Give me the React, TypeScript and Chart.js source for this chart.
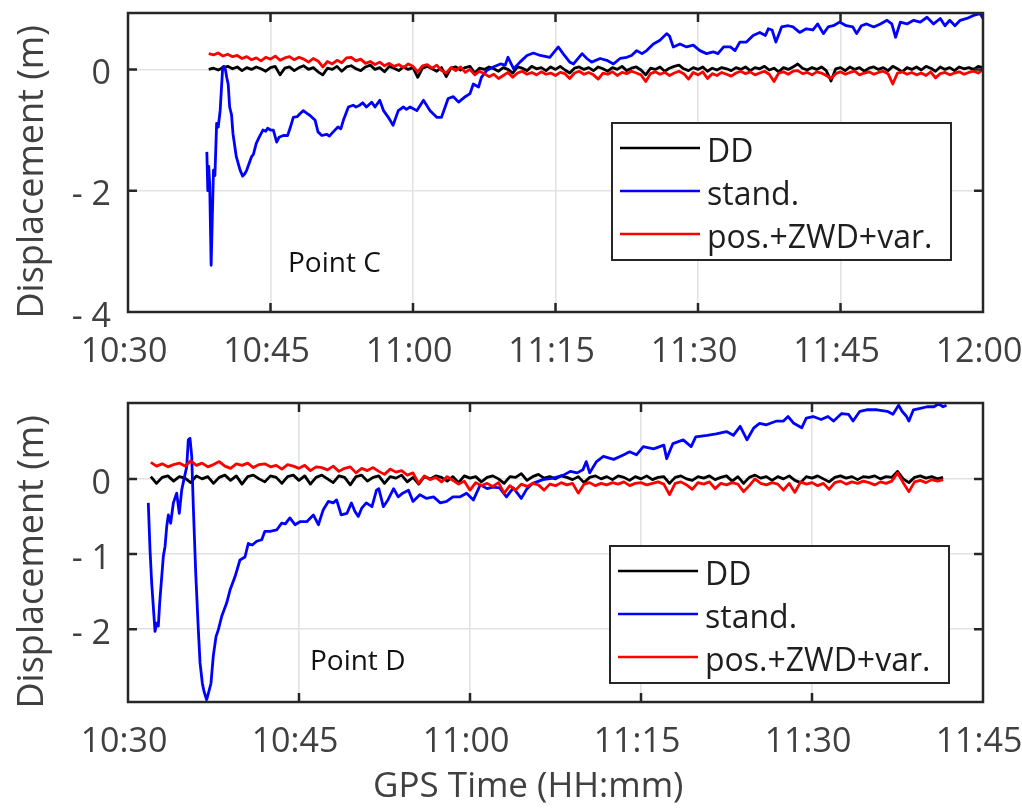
import React, { useEffect, useRef } from "react";
import { Chart, registerables } from "chart.js";

Chart.register(...registerables);

const FONT = "'Open Sans', 'Noto Sans', sans-serif";
const TEXT = "#404040";
const EDGE = "#262626";
const GRID = "#e2e2e2";

const seriesLabels = ["DD", "stand.", "pos.+ZWD+var."];
const seriesColors = ["#000000", "#0000ff", "#ff0000"];

// ---------- Point C (top panel); time in minutes after 10:30 ----------
const cXTicks = [0, 15, 30, 45, 60, 75, 90];
const cXTickLabels = ["10:30", "10:45", "11:00", "11:15", "11:30", "11:45", "12:00"];
const cYTicks = [-4, -2, 0];
const cYTickLabels = ["- 4", "- 2", "0"];

const cTimes = [
  8.5, 9, 9.5, 10, 10.5, 11, 11.5, 12, 12.5, 13,
  13.5, 14, 14.5, 15, 15.5, 16, 16.5, 17, 17.5, 18,
  18.5, 19, 19.5, 20, 20.5, 21, 21.5, 22, 22.5, 23,
  23.5, 24, 24.5, 25, 25.5, 26, 26.5, 27, 27.5, 28,
  28.5, 29, 29.5, 30, 30.5, 31, 31.5, 32, 32.5, 33,
  33.5, 34, 34.5, 35, 35.5, 36, 36.5, 37, 37.5, 38,
  38.5, 39, 39.5, 40, 40.5, 41, 41.5, 42, 42.5, 43,
  43.5, 44, 44.5, 45, 45.5, 46, 46.5, 47, 47.5, 48,
  48.5, 49, 49.5, 50, 50.5, 51, 51.5, 52, 52.5, 53,
  53.5, 54, 54.5, 55, 55.5, 56, 56.5, 57, 57.5, 58,
  58.5, 59, 59.5, 60, 60.5, 61, 61.5, 62, 62.5, 63,
  63.5, 64, 64.5, 65, 65.5, 66, 66.5, 67, 67.5, 68,
  68.5, 69, 69.5, 70, 70.5, 71, 71.5, 72, 72.5, 73,
  73.5, 74, 74.5, 75, 75.5, 76, 76.5, 77, 77.5, 78,
  78.5, 79, 79.5, 80, 80.5, 81, 81.5, 82, 82.5, 83,
  83.5, 84, 84.5, 85, 85.5, 86, 86.5, 87, 87.5, 88,
  88.5, 89, 89.5, 90,
];

const cDD = [
  0.00, 0.02, -0.01, 0.03, 0.05, 0.01, 0.04, -0.02, 0.03, 0.00,
  0.04, 0.01, -0.03, 0.03, 0.05, -0.09, 0.02, 0.04, -0.02, 0.03,
  0.06, 0.00, 0.03, -0.04, -0.09, 0.02, 0.00, 0.05, -0.03, 0.04,
  0.06, 0.01, -0.02, 0.04, 0.07, 0.00, 0.03, -0.04, 0.05, 0.02,
  -0.02, 0.04, 0.00, 0.03, -0.13, 0.02, 0.05, 0.01, -0.03, 0.03,
  -0.12, 0.02, 0.04, -0.01, 0.03, 0.05, -0.06, 0.02, 0.00, 0.04,
  0.01, -0.03, 0.03, 0.00, -0.06, 0.04, 0.02, -0.02, 0.05, 0.01,
  0.03, -0.02, 0.04, 0.00, 0.05, -0.01, -0.06, 0.02, 0.04, 0.00,
  0.03, -0.02, 0.04, 0.01, -0.03, 0.03, 0.00, 0.05, -0.02, 0.02,
  0.04, -0.01, -0.09, 0.02, 0.00, 0.04, -0.03, 0.02, 0.05, 0.07,
  0.01, -0.02, 0.03, 0.00, 0.04, -0.03, 0.02, -0.01, 0.03, 0.01,
  -0.02, 0.03, 0.00, 0.04, -0.02, 0.03, 0.01, 0.05, -0.01, 0.02,
  -0.04, 0.03, 0.00, 0.04, 0.09, 0.02, -0.01, 0.03, 0.00, 0.04,
  -0.02, -0.19, 0.01, 0.03, -0.02, 0.04, 0.00, 0.03, -0.03, 0.02,
  0.04, 0.00, 0.03, -0.02, 0.05, 0.01, -0.04, 0.03, 0.00, 0.04,
  -0.01, 0.05, 0.02, -0.03, 0.04, 0.00, 0.03, -0.02, 0.04, 0.01,
  0.03, 0.00, 0.05, 0.03,
];

const cPos = [
  0.26, 0.24, 0.27, 0.22, 0.25, 0.21, 0.23, 0.18, 0.21, 0.16,
  0.19, 0.14, 0.20, 0.17, 0.22, 0.15, 0.19, 0.21, 0.16, 0.20,
  0.17, 0.12, 0.18, 0.14, 0.04, 0.13, 0.09, 0.15, 0.11, 0.19,
  0.20, 0.14, 0.17, 0.10, 0.13, 0.08, 0.12, 0.06, 0.10, 0.05,
  0.08, 0.03, 0.09, 0.05, -0.04, 0.06, 0.08, 0.02, 0.07, -0.02,
  -0.06, 0.03, -0.02, 0.04, -0.05, 0.00, -0.09, -0.03, -0.07, -0.12,
  -0.08, -0.15, -0.10, -0.05, -0.13, -0.06, -0.03, -0.08, -0.05, -0.09,
  -0.04, -0.08, -0.06, -0.10, -0.05, -0.07, -0.15, -0.06, -0.03, -0.08,
  -0.05, -0.09, -0.16, -0.06, -0.08, -0.04, -0.10, -0.05, -0.07, -0.03,
  -0.06, -0.09, -0.20, -0.07, -0.04, -0.08, -0.05, -0.10, -0.06, -0.03,
  -0.07, -0.16, -0.05, -0.09, -0.04, -0.15, -0.07, -0.10, -0.05, -0.08,
  -0.11, -0.06, -0.03, -0.07, -0.04, -0.09, -0.06, -0.03, -0.08, -0.20,
  -0.06, -0.04, -0.08, -0.03, -0.02, -0.07, -0.05, -0.09, -0.04, -0.06,
  -0.10, -0.15, -0.07, -0.04, -0.08, -0.05, -0.03, -0.09, -0.06, -0.04,
  -0.08, -0.05, -0.03, -0.07, -0.24, -0.06, -0.04, -0.08, -0.05, -0.09,
  -0.06, -0.10, -0.04, -0.14, -0.07, -0.05, -0.09, -0.06, -0.04, -0.08,
  -0.05, -0.03, -0.06, 0.00,
];

const cStandTimes = [
  8.3, 8.4, 8.5, 8.6, 8.75, 8.85, 9.0, 9.15, 9.33, 9.5,
  9.7, 9.97, 10.1, 10.25, 10.39, 10.55, 10.7, 10.9, 11.05, 11.4,
  11.8, 12.07, 12.3, 12.5, 13.0, 13.2, 13.5, 13.8, 14.2, 14.5,
  14.7, 15.0, 15.3, 15.65, 15.9, 16.35, 16.8, 17.1, 17.4, 17.8,
  18.1, 18.45, 18.8, 19.16, 19.7, 20.0, 20.4, 20.9, 21.2, 21.6,
  22.1, 22.4, 22.67, 23.2, 23.7, 24.0, 24.4, 24.7, 25.1, 25.65,
  26.0, 26.5, 26.9, 27.4, 27.9, 28.45, 29.0, 29.3, 29.7, 30.4,
  31.1, 31.8, 32.5, 33.0, 33.7, 34.25, 34.8, 35.5, 36.0, 36.35,
  36.9, 37.2, 37.75, 38.45, 39.2, 39.7, 40.0, 40.6, 41.26, 42.0,
  42.67, 43.4, 44.4, 45.3, 45.8, 46.5, 46.9, 47.8, 48.3, 48.8,
  49.7, 50.4, 51.1, 51.8, 52.5, 53.0, 53.55, 54.1, 54.6, 55.3,
  56.0, 56.7, 57.0, 57.4, 58.1, 58.8, 59.5, 60.2, 60.9, 61.6,
  62.1, 62.7, 63.4, 63.9, 64.4, 65.1, 65.8, 66.5, 67.1, 67.4,
  67.8, 68.2, 68.8, 69.5, 70.0, 70.7, 71.4, 72.1, 72.6, 73.2,
  73.7, 74.25, 74.9, 75.6, 76.3, 76.7, 77.2, 77.75, 78.5, 79.2,
  79.9, 80.4, 80.8, 81.3, 82.0, 82.7, 83.4, 84.1, 84.8, 85.5,
  86.0, 86.5, 87.05, 87.6, 88.3, 89.0, 89.7, 90.0,
];

const cStand = [
  -1.36, -2.0, -1.6, -1.9, -3.23, -2.6, -1.66, -1.75, -0.89, -0.95,
  -0.68, 0.04, 0.05, 0.0, -0.13, -0.25, -0.62, -0.75, -1.06, -1.44,
  -1.66, -1.76, -1.72, -1.66, -1.44, -1.40, -1.22, -1.12, -1.0, -1.02,
  -0.97, -1.0, -1.0, -1.2, -1.12, -1.09, -1.09, -0.95, -0.79, -0.78,
  -0.73, -0.68, -0.72, -0.76, -0.84, -1.03, -1.09, -1.07, -1.1, -1.03,
  -0.95, -0.98, -0.84, -0.62, -0.59, -0.62, -0.59, -0.55, -0.62, -0.54,
  -0.62, -0.51, -0.68, -0.79, -0.92, -0.68, -0.62, -0.66, -0.62, -0.68,
  -0.51, -0.68, -0.79, -0.79, -0.48, -0.45, -0.54, -0.45, -0.40, -0.24,
  -0.29, -0.13, -0.02, 0.04, 0.09, 0.07, 0.2, 0.01, 0.12, 0.23,
  0.27, 0.23, 0.2, 0.37, 0.26, 0.12, 0.09, 0.26, 0.18, 0.12,
  0.18, 0.15, 0.09, 0.18, 0.2, 0.23, 0.31, 0.26, 0.31, 0.42,
  0.48, 0.59, 0.55, 0.37, 0.42, 0.37, 0.4, 0.31, 0.26, 0.29,
  0.26, 0.37, 0.37, 0.31, 0.45, 0.45, 0.56, 0.61, 0.56, 0.67,
  0.65, 0.45, 0.70, 0.72, 0.70, 0.61, 0.67, 0.65, 0.75, 0.59,
  0.70, 0.72, 0.78, 0.72, 0.70, 0.59, 0.72, 0.75, 0.70, 0.75,
  0.81, 0.75, 0.53, 0.78, 0.75, 0.81, 0.78, 0.86, 0.75, 0.84,
  0.72, 0.81, 0.72, 0.81, 0.84, 0.89, 0.92, 0.84,
];

// ---------- Point D (bottom panel) ----------
const dXTicks = [0, 15, 30, 45, 60, 75];
const dXTickLabels = ["10:30", "10:45", "11:00", "11:15", "11:30", "11:45"];
const dYTicks = [-2, -1, 0];
const dYTickLabels = ["- 2", "- 1", "0"];

const dTimes = [
  2, 2.5, 3, 3.5, 4, 4.5, 5, 5.5, 6, 6.5,
  7, 7.5, 8, 8.5, 9, 9.5, 10, 10.5, 11, 11.5,
  12, 12.5, 13, 13.5, 14, 14.5, 15, 15.5, 16, 16.5,
  17, 17.5, 18, 18.5, 19, 19.5, 20, 20.5, 21, 21.5,
  22, 22.5, 23, 23.5, 24, 24.5, 25, 25.5, 26, 26.5,
  27, 27.5, 28, 28.5, 29, 29.5, 30, 30.5, 31, 31.5,
  32, 32.5, 33, 33.5, 34, 34.5, 35, 35.5, 36, 36.5,
  37, 37.5, 38, 38.5, 39, 39.5, 40, 40.5, 41, 41.5,
  42, 42.5, 43, 43.5, 44, 44.5, 45, 45.5, 46, 46.5,
  47, 47.5, 48, 48.5, 49, 49.5, 50, 50.5, 51, 51.5,
  52, 52.5, 53, 53.5, 54, 54.5, 55, 55.5, 56, 56.5,
  57, 57.5, 58, 58.5, 59, 59.5, 60, 60.5, 61, 61.5,
  62, 62.5, 63, 63.5, 64, 64.5, 65, 65.5, 66, 66.5,
  67, 67.5, 68, 68.5, 69, 69.5, 70, 70.5, 71, 71.5,
];

const dDD = [
  0.03, -0.06, 0.02, 0.04, -0.03, 0.03, 0.01, -0.05, 0.04, 0.00,
  0.03, -0.06, 0.02, 0.05, -0.02, 0.04, -0.07, 0.03, 0.05, 0.00,
  -0.04, 0.04, 0.02, -0.06, 0.03, 0.05, -0.02, 0.04, -0.07, 0.02,
  0.05, 0.00, -0.05, 0.04, 0.02, -0.08, 0.03, 0.05, -0.03, 0.02,
  0.04, -0.06, 0.03, 0.01, 0.05, -0.04, 0.02, -0.07, 0.03, 0.00,
  0.04, 0.02, -0.03, 0.03, -0.05, 0.04, 0.01, 0.03, -0.04, 0.02,
  0.04, 0.00, -0.06, 0.03, 0.02, 0.07, -0.02, 0.03, 0.06, 0.01,
  0.03, 0.00, 0.04, 0.02, -0.01, 0.03, -0.05, 0.02, 0.04, 0.00,
  0.03, -0.01, 0.04, 0.02, -0.02, 0.03, 0.00, 0.04, -0.01, 0.02,
  0.03, -0.06, 0.02, 0.04, 0.00, -0.02, 0.03, 0.01, 0.04, -0.01,
  0.02, 0.04, -0.03, 0.03, -0.06, 0.02, 0.05, 0.01, 0.03, -0.02,
  0.03, 0.00, 0.04, -0.02, -0.05, 0.03, 0.01, 0.04, 0.00, -0.04,
  0.02, 0.04, 0.01, 0.03, -0.01, 0.03, 0.02, 0.04, 0.00, 0.03,
  0.02, 0.10, 0.00, -0.05, 0.02, 0.04, 0.01, 0.03, 0.00, 0.02,
];

const dPos = [
  0.22, 0.17, 0.20, 0.16, 0.19, 0.21, 0.17, 0.24, 0.18, 0.21,
  0.16, 0.19, 0.23, 0.17, 0.14, 0.20, 0.18, 0.21, 0.15, 0.19,
  0.20, 0.16, 0.18, 0.13, 0.19, 0.17, 0.14, 0.18, 0.11, 0.16,
  0.15, 0.12, 0.17, 0.10, 0.14, 0.16, 0.08, 0.14, 0.11, 0.15,
  0.10, 0.06, 0.13, 0.09, 0.11, 0.05, 0.08, -0.06, 0.04, -0.01,
  0.02, -0.04, 0.03, -0.02, -0.07, -0.03, -0.15, -0.05, -0.09, -0.06,
  -0.10, -0.05, -0.19, -0.09, -0.15, -0.07, -0.10, -0.06, -0.08, -0.15,
  -0.07, -0.09, -0.05, -0.08, -0.06, -0.19, -0.07, -0.05, -0.09, -0.06,
  -0.08, -0.05, -0.07, -0.04, -0.09, -0.06, -0.05, -0.08, -0.06, -0.04,
  -0.07, -0.21, -0.06, -0.04, -0.08, -0.14, -0.05, -0.07, -0.04, -0.13,
  -0.06, -0.08, -0.05, -0.07, -0.17, -0.09, 0.00, -0.06, -0.08, -0.05,
  -0.07, -0.15, -0.06, -0.18, -0.04, -0.07, -0.05, -0.09, -0.06, -0.14,
  -0.05, -0.03, -0.07, -0.04, -0.06, -0.03, -0.05, -0.08, -0.04, -0.06,
  -0.03, 0.08, -0.05, -0.17, -0.04, -0.02, -0.05, -0.01, -0.03, -0.01,
];

const dStandTimes = [
  1.78, 1.93, 2.08, 2.22, 2.37, 2.52, 2.66, 2.78, 3.1, 3.25,
  3.4, 3.54, 3.74, 3.98, 4.27, 4.5, 4.71, 4.9, 5.15, 5.29,
  5.44, 5.59, 5.73, 5.94, 6.17, 6.32, 6.52, 6.67, 6.9, 7.13,
  7.28, 7.48, 7.72, 7.92, 8.22, 8.66, 8.95, 9.39, 9.82, 10.26,
  10.55, 10.9, 11.29, 11.73, 12.0, 12.46, 13.04, 13.48, 13.8, 14.2,
  14.65, 15.09, 15.68, 16.26, 16.7, 17.13, 17.57, 18.0, 18.3, 18.7,
  19.2, 19.6, 19.9, 20.2, 20.5, 20.9, 21.4, 21.8, 22.0, 22.4,
  22.8, 23.3, 23.7, 24.1, 24.6, 25.0, 25.6, 26.2, 26.8, 27.4,
  27.95, 28.5, 29.1, 29.7, 30.3, 30.9, 31.5, 32.0, 32.6, 33.2,
  33.8, 34.5, 35.0, 35.5, 36.4, 37.3, 38.2, 38.8, 39.4, 39.9,
  40.2, 40.5, 41.1, 41.7, 42.6, 43.5, 44.0, 44.6, 45.2, 46.1,
  47.0, 47.25, 47.8, 48.7, 49.4, 49.8, 50.8, 51.6, 52.5, 53.1,
  53.7, 54.3, 54.9, 55.4, 56.0, 56.9, 57.5, 57.9, 58.4, 59.1,
  59.5, 60.1, 60.8, 61.4, 61.9, 62.6, 63.2, 63.6, 64.2, 64.8,
  65.7, 66.6, 67.1, 67.6, 67.9, 68.3, 68.5, 68.9, 69.5, 70.1,
  70.7, 71.1, 71.5, 71.8,
];

const dStand = [
  -0.32, -0.94, -1.39, -1.70, -2.03, -1.92, -1.96, -1.65, -1.03, -0.9,
  -0.63, -0.48, -0.59, -0.32, -0.19, -0.46, -0.15, -0.01, 0.16, 0.52,
  0.54, 0.30, -0.37, -1.25, -2.01, -2.45, -2.72, -2.83, -2.94, -2.81,
  -2.72, -2.36, -2.10, -2.01, -1.83, -1.65, -1.48, -1.30, -1.08, -1.04,
  -0.86, -0.88, -0.83, -0.81, -0.70, -0.70, -0.68, -0.59, -0.6, -0.52,
  -0.61, -0.57, -0.57, -0.48, -0.61, -0.41, -0.30, -0.32, -0.28, -0.48,
  -0.46, -0.32, -0.43, -0.50, -0.39, -0.32, -0.37, -0.15, -0.13, -0.37,
  -0.28, -0.13, -0.24, -0.19, -0.15, -0.30, -0.21, -0.26, -0.24, -0.32,
  -0.30, -0.24, -0.24, -0.19, -0.28, -0.08, -0.13, -0.11, -0.12, -0.24,
  -0.12, -0.26, -0.13, -0.06, -0.01, 0.01, 0.05, 0.10, 0.08, 0.12,
  0.23, 0.08, 0.23, 0.30, 0.26, 0.32, 0.36, 0.32, 0.43, 0.40,
  0.45, 0.27, 0.47, 0.52, 0.43, 0.56, 0.58, 0.60, 0.63, 0.58,
  0.70, 0.52, 0.68, 0.74, 0.72, 0.77, 0.77, 0.83, 0.74, 0.68,
  0.81, 0.83, 0.79, 0.83, 0.77, 0.87, 0.86, 0.77, 0.90, 0.92,
  0.92, 0.90, 0.86, 0.98, 0.90, 0.83, 0.77, 0.92, 0.94, 0.96,
  0.96, 1.0, 0.96, 0.98,
];

const framePlugin = {
  id: "frame",
  afterDatasetsDraw(chart: any) {
    const { ctx, chartArea: a, scales } = chart;
    const L = 9;
    ctx.save();
    ctx.strokeStyle = EDGE;
    ctx.lineWidth = 2.5;
    ctx.beginPath();
    scales.x.ticks.forEach((t: any) => {
      const px = scales.x.getPixelForValue(t.value);
      if (px > a.left + 2 && px < a.right - 2) {
        ctx.moveTo(px, a.bottom);
        ctx.lineTo(px, a.bottom - L);
        ctx.moveTo(px, a.top);
        ctx.lineTo(px, a.top + L);
      }
    });
    scales.y.ticks.forEach((t: any) => {
      const py = scales.y.getPixelForValue(t.value);
      if (py > a.top + 2 && py < a.bottom - 2) {
        ctx.moveTo(a.left, py);
        ctx.lineTo(a.left + L, py);
        ctx.moveTo(a.right, py);
        ctx.lineTo(a.right - L, py);
      }
    });
    ctx.stroke();
    ctx.strokeRect(a.left, a.top, a.right - a.left, a.bottom - a.top);
    ctx.restore();
  },
  afterDraw(chart: any, _args: any, opts: any) {
    const { ctx, chartArea: a, scales } = chart;
    ctx.save();
    if (opts.note) {
      ctx.font = `28px ${FONT}`;
      ctx.fillStyle = "#111111";
      ctx.textAlign = "left";
      ctx.textBaseline = "alphabetic";
      ctx.fillText(
        opts.note.text,
        scales.x.getPixelForValue(opts.note.x),
        scales.y.getPixelForValue(opts.note.y)
      );
    }
    if (opts.legend) {
      const { right, top, width, height } = opts.legend;
      const bx = a.right - right - width;
      const by = a.top + top;
      ctx.fillStyle = "#ffffff";
      ctx.fillRect(bx, by, width, height);
      ctx.strokeStyle = EDGE;
      ctx.lineWidth = 2;
      ctx.strokeRect(bx, by, width, height);
      const rows = [25, 68, 111];
      ctx.font = `32px ${FONT}`;
      ctx.textAlign = "left";
      ctx.textBaseline = "alphabetic";
      chart.data.datasets.forEach((ds: any, i: number) => {
        const y = by + rows[i];
        ctx.strokeStyle = ds.borderColor;
        ctx.lineWidth = 2.5;
        ctx.beginPath();
        ctx.moveTo(bx + 8, y);
        ctx.lineTo(bx + 88, y);
        ctx.stroke();
        ctx.fillStyle = "#1e1e1e";
        ctx.fillText(ds.label, bx + 95, y + 13.5);
      });
    }
    ctx.restore();
  },
};

type PanelCfg = {
  times: number[];
  dd: number[];
  standTimes: number[];
  stand: number[];
  pos: number[];
  xTicks: number[];
  xLabels: string[];
  yTicks: number[];
  yLabels: string[];
  xMax: number;
  yMin: number;
  yMax: number;
  xAxisHeight: number;
  xTitle: boolean;
  legend: { right: number; top: number; width: number; height: number };
  note: { text: string; x: number; y: number };
};

function buildChart(canvas: HTMLCanvasElement, p: PanelCfg) {
  const pts = (ts: number[], vs: number[]) => ts.map((t, i) => ({ x: t, y: vs[i] }));
  const series = [pts(p.times, p.dd), pts(p.standTimes, p.stand), pts(p.times, p.pos)];
  return new Chart(canvas, {
    type: "line",
    data: {
      datasets: series.map((d, i) => ({
        label: seriesLabels[i],
        data: d,
        borderColor: seriesColors[i],
        backgroundColor: seriesColors[i],
        borderWidth: 2.8,
        pointRadius: 0,
        tension: 0,
        borderJoinStyle: "round" as const,
        fill: false,
        order: 3 - i,
      })),
    },
    options: {
      animation: false,
      responsive: false,
      devicePixelRatio: 1,
      events: [],
      layout: { padding: { top: 13, right: 39, left: 0, bottom: 0 } },
      plugins: {
        legend: { display: false },
        tooltip: { enabled: false },
        frame: { legend: p.legend, note: p.note },
      } as any,
      scales: {
        x: {
          type: "linear",
          min: 0,
          max: p.xMax,
          afterBuildTicks: (s: any) => {
            s.ticks = p.xTicks.map((value) => ({ value }));
          },
          afterFit: (s: any) => {
            s.height = p.xAxisHeight;
            s.paddingLeft = 0;
            s.paddingRight = 0;
          },
          ticks: {
            callback: (v: any) => {
              const i = p.xTicks.indexOf(Number(v));
              return i >= 0 ? p.xLabels[i] : "";
            },
            font: { family: FONT, size: 34 },
            color: TEXT,
            padding: 20,
            labelOffset: -4,
            maxRotation: 0,
            autoSkip: false,
          },
          grid: { color: GRID, lineWidth: 1.6, drawTicks: false },
          border: { display: false },
          title: {
            display: p.xTitle,
            text: "GPS Time (HH:mm)      ",
            font: { family: FONT, size: 35 },
            color: TEXT,
            padding: { top: 0, bottom: 3 },
          },
        },
        y: {
          type: "linear",
          min: p.yMin,
          max: p.yMax,
          afterBuildTicks: (s: any) => {
            s.ticks = p.yTicks.map((value) => ({ value }));
          },
          afterFit: (s: any) => {
            s.width = 128;
            s.paddingTop = 0;
            s.paddingBottom = 0;
          },
          ticks: {
            callback: (v: any) => {
              const i = p.yTicks.indexOf(Number(v));
              return i >= 0 ? p.yLabels[i] : "";
            },
            font: { family: FONT, size: 34 },
            color: TEXT,
            padding: 17,
            labelOffset: 5,
            autoSkip: false,
          },
          grid: { color: GRID, lineWidth: 1.6, drawTicks: false },
          border: { display: false },
          title: {
            display: true,
            text: "Displacement (m)  ",
            font: { family: FONT, size: 36 },
            color: TEXT,
            padding: { top: 11, bottom: 0 },
          },
        },
      },
    },
    plugins: [framePlugin],
  } as any);
}

export default function App() {
  const topRef = useRef<HTMLCanvasElement>(null);
  const botRef = useRef<HTMLCanvasElement>(null);

  useEffect(() => {
    const c1 = buildChart(topRef.current!, {
      times: cTimes,
      dd: cDD,
      standTimes: cStandTimes,
      stand: cStand,
      pos: cPos,
      xTicks: cXTicks,
      xLabels: cXTickLabels,
      yTicks: cYTicks,
      yLabels: cYTickLabels,
      xMax: 90,
      yMin: -4,
      yMax: 0.93,
      xAxisHeight: 78,
      xTitle: false,
      legend: { right: 32, top: 110, width: 339, height: 137 },
      note: { text: "Point C", x: 16.84, y: -3.34 },
    });
    const c2 = buildChart(botRef.current!, {
      times: dTimes,
      dd: dDD,
      standTimes: dStandTimes,
      stand: dStand,
      pos: dPos,
      xTicks: dXTicks,
      xLabels: dXTickLabels,
      yTicks: dYTicks,
      yLabels: dYTickLabels,
      xMax: 75,
      yMin: -2.97,
      yMax: 1.01,
      xAxisHeight: 109,
      xTitle: true,
      legend: { right: 34, top: 143, width: 339, height: 137 },
      note: { text: "Point D", x: 15.96, y: -2.55 },
    });
    return () => {
      c1.destroy();
      c2.destroy();
    };
  }, []);

  return (
    <div
      style={{
        position: "absolute",
        left: 0,
        top: 0,
        width: 1022,
        height: 811,
        background: "#ffffff",
        overflow: "hidden",
      }}
    >
      <canvas
        ref={topRef}
        width={1022}
        height={390}
        style={{ position: "absolute", left: 0, top: 0, display: "block" }}
      />
      <canvas
        ref={botRef}
        width={1022}
        height={421}
        style={{ position: "absolute", left: 0, top: 390, display: "block" }}
      />
    </div>
  );
}
